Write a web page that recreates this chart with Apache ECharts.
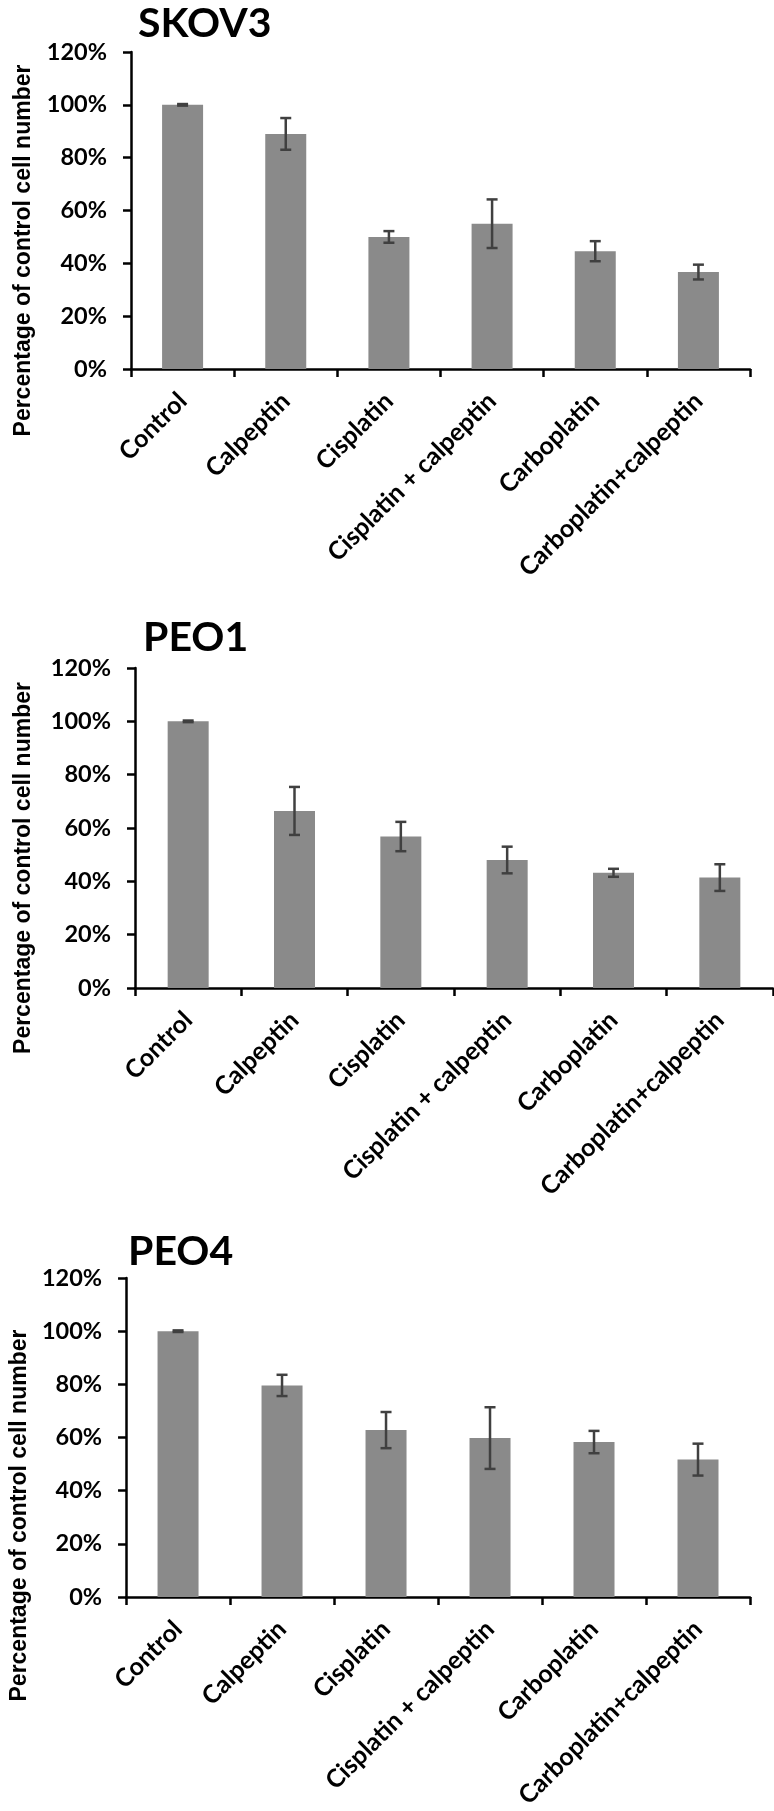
<!DOCTYPE html>
<html>
<head>
<meta charset="utf-8">
<script src="https://cdn.jsdelivr.net/npm/echarts@6/dist/echarts.min.js"></script>
<style>
html,body{margin:0;padding:0;background:#fff;}
#chart{width:774px;height:1811px;}
</style>
</head>
<body>
<div id="chart"></div>
<script>
const categories = ['Control', 'Calpeptin', 'Cisplatin', 'Cisplatin + calpeptin', 'Carboplatin', 'Carboplatin+calpeptin'];
const panelTitles = ['SKOV3', 'PEO1', 'PEO4'];
const yAxisTitle = 'Percentage of control cell number';
const yMin = 0, yMax = 120, yStep = 20;

const skov3Values = [100, 89, 50, 55, 44.6, 36.7];
const skov3Errors = [0.3, 6, 2.2, 9.2, 3.8, 2.8];
const peo1Values = [100, 66.4, 56.8, 48, 43.2, 41.4];
const peo1Errors = [0.3, 9, 5.5, 5, 1.5, 5];
const peo4Values = [100, 79.6, 62.8, 59.8, 58.3, 51.7];
const peo4Errors = [0.3, 4, 6.8, 11.6, 4.2, 6];

const panels = [
  { title: panelTitles[0], values: skov3Values, errors: skov3Errors,
    grid: { left: 131, right: 24, top: 52, height: 317 }, titlePos: { left: 133, top: -2 }, nameGap: 96, nameShift: 40, nameSize: 23 },
  { title: panelTitles[1], values: peo1Values, errors: peo1Errors,
    grid: { left: 135, right: 1, top: 668, height: 320 }, titlePos: { left: 138, top: 612 }, nameGap: 100, nameShift: 40, nameSize: 23 },
  { title: panelTitles[2], values: peo4Values, errors: peo4Errors,
    grid: { left: 124, right: 24, top: 1278, height: 320 }, titlePos: { left: 123, top: 1226 }, nameGap: 91, nameShift: 78, nameSize: 23 }
];

const AXIS_COLOR = '#000';
const BAR_COLOR = '#8a8a8a';
const ERR_COLOR = '#404040';

const option = {
  animation: false,
  backgroundColor: '#fff',
  title: panels.map(p => ({
    text: p.title, left: p.titlePos.left, top: p.titlePos.top,
    textStyle: { fontFamily: 'Lato', fontWeight: 'bold', fontSize: 41, color: '#000' }
  })),
  grid: panels.map(p => p.grid),
  xAxis: panels.map((p, i) => ({
    type: 'category', gridIndex: i, data: categories,
    axisLine: { lineStyle: { color: AXIS_COLOR, width: 2.5 } },
    axisTick: { show: true, alignWithLabel: false, length: 8, lineStyle: { color: AXIS_COLOR, width: 2.5 } },
    axisLabel: { interval: 0, rotate: 45, margin: 28, color: '#000', fontFamily: 'Lato', fontWeight: 'bold', fontSize: 25 }
  })),
  yAxis: panels.map((p, i) => ({
    type: 'value', gridIndex: i, min: yMin, max: yMax, interval: yStep,
    name: yAxisTitle, nameLocation: 'middle', nameGap: p.nameGap,
    nameTextStyle: { fontFamily: 'Liberation Sans', fontWeight: 'bold', fontSize: p.nameSize, color: '#000', padding: [0, 2 * p.nameShift, 0, 0] },
    splitLine: { show: false },
    axisLine: { show: true, lineStyle: { color: AXIS_COLOR, width: 2.5 } },
    axisTick: { show: true, length: 8, lineStyle: { color: AXIS_COLOR, width: 2.5 } },
    axisLabel: { margin: 24, color: '#000', fontFamily: 'Lato', fontWeight: 'bold', fontSize: 23.5, formatter: '{value}%' }
  })),
  series: []
};

panels.forEach((p, i) => {
  option.series.push({
    type: 'bar', xAxisIndex: i, yAxisIndex: i, data: p.values,
    barWidth: 41, itemStyle: { color: BAR_COLOR }, z: 2
  });
  option.series.push({
    type: 'custom', xAxisIndex: i, yAxisIndex: i, z: 5,
    data: p.values.map((v, k) => [k, v, p.errors[k]]),
    renderItem: function (params, api) {
      const x = api.value(0), v = api.value(1), e = api.value(2);
      const hi = api.coord([x, v + e]);
      const lo = api.coord([x, v - e]);
      const hw = 5.5;
      const st = { stroke: ERR_COLOR, lineWidth: 2.5 };
      return {
        type: 'group',
        children: [
          { type: 'line', shape: { x1: hi[0], y1: hi[1], x2: lo[0], y2: lo[1] }, style: st },
          { type: 'line', shape: { x1: hi[0] - hw, y1: hi[1], x2: hi[0] + hw, y2: hi[1] }, style: st },
          { type: 'line', shape: { x1: lo[0] - hw, y1: lo[1], x2: lo[0] + hw, y2: lo[1] }, style: st }
        ]
      };
    }
  });
});

const chart = echarts.init(document.getElementById('chart'), null, { renderer: 'canvas' });
chart.setOption(option);
</script>
</body>
</html>
